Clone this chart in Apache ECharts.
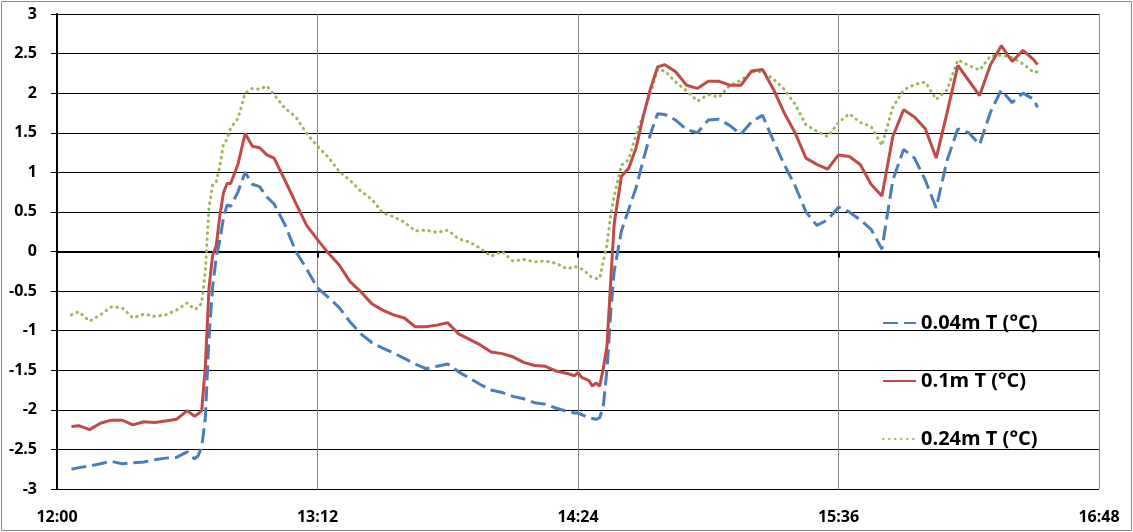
<!DOCTYPE html>
<html>
<head>
<meta charset="utf-8">
<script src="https://cdn.jsdelivr.net/npm/echarts@6/dist/echarts.min.js"></script>
<style>
	html, body { margin: 0; padding: 0; background: #fff; }
	#chart { width: 1133px; height: 532px; }
</style>
</head>
<body>
<div id="chart"></div>
<script>
// minutes after 12:00
var times = [4, 6, 9, 12, 15, 18, 21, 24, 27, 30, 33, 36,
	38, 39, 40, 41, 42, 43, 44, 45, 46, 47, 48,
	50, 52, 54, 56, 58, 60,
	63, 66, 69, 72, 75, 78, 81, 84, 87, 90, 93, 96, 99, 102, 105, 108, 111, 114, 117, 120, 123, 126, 129, 132, 135, 138, 141,
	143,
	144, 145, 146, 147, 148, 149, 150, 151, 152, 153, 154,
	156, 158, 160, 162, 164, 166, 168,
	171, 174, 177, 180, 183, 186, 189, 192, 195, 198, 201, 204, 207, 210, 213, 216, 219, 222, 225, 228, 231, 234, 237, 240, 243, 246, 249, 252, 255, 258, 261, 264, 267, 270,
	271];

var t004 = [-2.75, -2.73, -2.71, -2.68, -2.65, -2.68, -2.67, -2.66, -2.63, -2.61, -2.6, -2.53,
	-2.62, -2.58, -2.47, -2.1, -1.1, -0.45, -0.08, 0.14, 0.42, 0.59, 0.57,
	0.75, 1.0, 0.85, 0.82, 0.69, 0.6,
	0.34, 0.0, -0.22, -0.46, -0.58, -0.71, -0.89, -1.04, -1.15, -1.22, -1.28, -1.35, -1.42, -1.48, -1.45, -1.42, -1.52, -1.6, -1.68, -1.75, -1.78, -1.83, -1.86, -1.91, -1.93, -1.98, -2.02,
	-2.04,
	-2.04, -2.06, -2.08, -2.1, -2.11, -2.12, -2.1, -1.95, -1.5, -0.8, -0.25,
	0.26, 0.53, 0.8, 1.15, 1.48, 1.74, 1.73,
	1.66, 1.54, 1.5, 1.66, 1.67, 1.59, 1.48, 1.64, 1.72, 1.4, 1.1, 0.83, 0.5, 0.33, 0.4, 0.56, 0.5, 0.4, 0.28, 0.03, 0.9, 1.29, 1.18, 0.9, 0.55, 1.15, 1.55, 1.5, 1.35, 1.76, 2.04, 1.88, 2.0, 1.92,
	1.82];

var t010 = [-2.21, -2.2, -2.25, -2.17, -2.13, -2.13, -2.19, -2.15, -2.16, -2.14, -2.12, -2.01,
	-2.08, -2.05, -2.01, -1.45, -0.47, -0.05, 0.07, 0.45, 0.74, 0.86, 0.86,
	1.1, 1.49, 1.33, 1.31, 1.22, 1.18,
	0.9, 0.61, 0.33, 0.15, -0.02, -0.17, -0.38, -0.51, -0.66, -0.74, -0.8, -0.84, -0.95, -0.95, -0.93, -0.9, -1.04, -1.11, -1.18, -1.27, -1.29, -1.33, -1.4, -1.44, -1.45, -1.51, -1.54,
	-1.57,
	-1.53, -1.59, -1.61, -1.63, -1.7, -1.66, -1.7, -1.47, -1.2, -0.41, 0.35,
	0.95, 1.05, 1.3, 1.7, 2.05, 2.33, 2.36,
	2.27, 2.1, 2.06, 2.15, 2.15, 2.1, 2.1, 2.28, 2.3, 2.05, 1.75, 1.5, 1.18, 1.1, 1.04, 1.22, 1.2, 1.1, 0.85, 0.7, 1.45, 1.79, 1.7, 1.55, 1.18, 1.75, 2.35, 2.16, 1.97, 2.36, 2.6, 2.4, 2.54, 2.42,
	2.36];

var t024 = [-0.8, -0.76, -0.88, -0.8, -0.7, -0.71, -0.84, -0.79, -0.82, -0.8, -0.74, -0.65,
	-0.73, -0.71, -0.65, -0.25, 0.55, 0.84, 0.88, 1.08, 1.35, 1.42, 1.56,
	1.68, 2.0, 2.06, 2.05, 2.09, 1.98,
	1.81, 1.7, 1.49, 1.33, 1.19, 1.01, 0.9, 0.76, 0.66, 0.49, 0.44, 0.37, 0.26, 0.27, 0.24, 0.27, 0.16, 0.12, 0.04, -0.06, 0.0, -0.12, -0.1, -0.13, -0.12, -0.15, -0.22,
	-0.19,
	-0.2, -0.22, -0.25, -0.3, -0.33, -0.34, -0.34, -0.12, 0.08, 0.45, 0.7,
	1.09, 1.16, 1.47, 1.72, 2.0, 2.3, 2.28,
	2.14, 2.03, 1.9, 1.98, 1.95, 2.1, 2.16, 2.27, 2.27, 2.18, 2.05, 1.86, 1.6, 1.52, 1.45, 1.63, 1.74, 1.63, 1.58, 1.34, 1.82, 2.04, 2.11, 2.14, 1.92, 2.04, 2.42, 2.35, 2.29, 2.47, 2.48, 2.45, 2.37, 2.26,
	2.27];

var seriesNames = ['0.04m T (°C)', '0.1m T (°C)', '0.24m T (°C)'];

function pairs(vals) {
	return times.map(function (t, i) { return [t, vals[i]]; });
}

function clock(m) {
	var h = 12 + Math.floor(m / 60);
	var mm = m % 60;
	return h + ':' + (mm < 10 ? '0' + mm : mm);
}

var font = "'Open Sans', sans-serif";
var myChart = echarts.init(document.getElementById('chart'));
var option = {
	animation: false,
	backgroundColor: '#fff',
	grid: {
		left: 57,
		right: 34,
		top: 14,
		bottom: 43
	},
	graphic: [{
		type: 'rect',
		shape: { x: 1.5, y: 1.5, width: 1130, height: 529 },
		style: { fill: 'none', stroke: '#8c8c8c', lineWidth: 1 },
		silent: true
	}],
	legend: {
		orient: 'vertical',
		left: 882,
		top: 313,
		padding: 0,
		itemGap: 38,
		itemWidth: 33,
		itemHeight: 18,
		itemStyle: { opacity: 0 },
		textStyle: {
			fontFamily: font,
			fontSize: 20,
			fontWeight: 'bold',
			color: '#000'
		},
		data: seriesNames
	},
	xAxis: {
		type: 'value',
		min: 0,
		max: 288,
		interval: 72,
		axisLine: { show: true, lineStyle: { color: '#000', width: 2 } },
		axisTick: { show: true, length: 6, lineStyle: { color: '#000', width: 2 } },
		axisLabel: {
			margin: 20,
			fontFamily: font,
			fontSize: 16,
			fontWeight: 'bold',
			color: '#000',
			formatter: clock
		},
		splitLine: { show: true, lineStyle: { color: '#878787', width: 1 } }
	},
	yAxis: {
		type: 'value',
		min: -3,
		max: 3,
		interval: 0.5,
		axisLine: { show: true, onZero: false, lineStyle: { color: '#000', width: 2 } },
		axisTick: { show: true, length: 6, lineStyle: { color: '#000', width: 1 } },
		axisLabel: {
			margin: 20,
			fontFamily: font,
			fontSize: 16,
			fontWeight: 'bold',
			color: '#000'
		},
		splitLine: { show: true, lineStyle: { color: '#000', width: 1 } }
	},
	series: [{
		name: seriesNames[0],
		type: 'line',
		showSymbol: false,
		symbol: 'none',
		z: 3,
		data: pairs(t004),
		lineStyle: { color: '#4a7ebb', width: 3, type: [15, 6] },
		itemStyle: { color: '#4a7ebb' }
	}, {
		name: seriesNames[1],
		type: 'line',
		showSymbol: false,
		symbol: 'none',
		z: 4,
		data: pairs(t010),
		lineStyle: { color: '#be4b48', width: 3, type: 'solid' },
		itemStyle: { color: '#be4b48' }
	}, {
		name: seriesNames[2],
		type: 'line',
		showSymbol: false,
		symbol: 'none',
		z: 2,
		data: pairs(t024),
		lineStyle: { color: '#98b954', width: 3, type: [0.5, 5.5], cap: 'round' },
		itemStyle: { color: '#98b954' }
	}]
};
myChart.setOption(option);
window.addEventListener('resize', function () {
	myChart.resize();
});
</script>
</body>
</html>
